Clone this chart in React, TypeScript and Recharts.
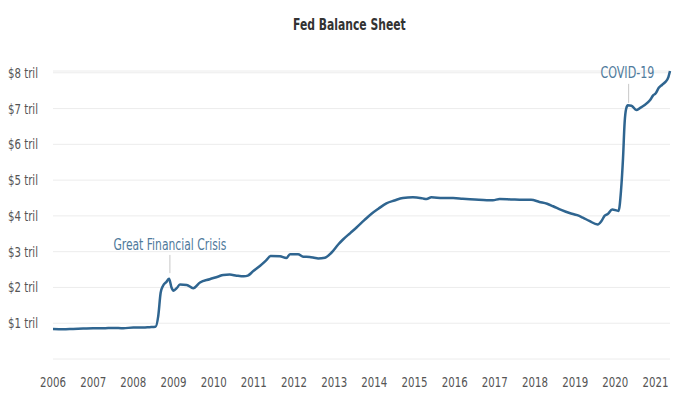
import React from 'react';
import { LineChart, Line, XAxis, YAxis, CartesianGrid, ReferenceLine, ReferenceDot } from 'recharts';

// year (decimal) and balance sheet size in trillions of dollars
const years = [
  2006.0, 2006.25, 2006.5, 2006.75, 2007.0, 2007.25, 2007.5, 2007.75, 2008.0, 2008.25, 2008.4, 2008.55,
  2008.62, 2008.68, 2008.74, 2008.82, 2008.89, 2008.95, 2009.0, 2009.08, 2009.16, 2009.33, 2009.49, 2009.66,
  2009.9, 2010.1, 2010.24, 2010.4, 2010.57, 2010.75, 2010.85, 2010.98, 2011.15, 2011.3, 2011.42, 2011.65,
  2011.81, 2011.9, 2012.1, 2012.23, 2012.39, 2012.5, 2012.6, 2012.77, 2012.93, 2013.1, 2013.22, 2013.4,
  2013.55, 2013.75, 2013.93, 2014.1, 2014.3, 2014.5, 2014.71, 2014.96, 2015.2, 2015.3, 2015.42, 2015.7,
  2015.96, 2016.2, 2016.5, 2016.8, 2016.95, 2017.12, 2017.4, 2017.7, 2017.9, 2018.11, 2018.3, 2018.45,
  2018.65, 2018.86, 2019.05, 2019.19, 2019.35, 2019.56, 2019.65, 2019.73, 2019.81, 2019.92, 2020.08, 2020.14,
  2020.19, 2020.23, 2020.27, 2020.31, 2020.4, 2020.52, 2020.62, 2020.73, 2020.86, 2020.94, 2021.0, 2021.08,
  2021.16, 2021.24, 2021.32, 2021.36,
];
const assets = [
  0.84, 0.83, 0.84, 0.85, 0.86, 0.86, 0.87, 0.86, 0.88, 0.88, 0.89, 0.9,
  1.2, 1.85, 2.05, 2.15, 2.24, 2.0, 1.91, 1.98, 2.08, 2.07, 1.98, 2.14,
  2.23, 2.3, 2.35, 2.36, 2.33, 2.31, 2.33, 2.45, 2.6, 2.75, 2.88, 2.87,
  2.82, 2.93, 2.93, 2.86, 2.85, 2.83, 2.81, 2.83, 2.97, 3.2, 3.34, 3.52,
  3.67, 3.88, 4.06, 4.2, 4.35, 4.43, 4.5, 4.52, 4.49, 4.47, 4.52, 4.5,
  4.5, 4.48, 4.46, 4.44, 4.44, 4.47, 4.46, 4.45, 4.45, 4.39, 4.34, 4.27,
  4.17, 4.08, 4.02, 3.95, 3.86, 3.76, 3.85, 4.0, 4.05, 4.18, 4.14, 4.7,
  5.6, 6.6, 7.0, 7.09, 7.08, 6.96, 7.02, 7.1, 7.23, 7.37, 7.42, 7.58,
  7.66, 7.74, 7.88, 8.05,
];
const xTicks = [2006, 2007, 2008, 2009, 2010, 2011, 2012, 2013, 2014, 2015, 2016, 2017, 2018, 2019, 2020, 2021];
const yTicks = [0, 1, 2, 3, 4, 5, 6, 7, 8];

const data = years.map((year, i) => ({ year, value: assets[i] }));

const FONT = "'Liberation Sans Narrow', 'DejaVu Sans Condensed', 'Roboto', sans-serif";
const LINE = '#2f6590';
const NOTE = '#4f7a9c';
const TICK = '#555';

// squeezed text so the notes look like the condensed face of the original
const noteLabel = (text: string, len: number) => (props: any) => {
  const { viewBox } = props;
  const cx = viewBox.x + (viewBox.width || 0) / 2;
  const cy = viewBox.y + (viewBox.height || 0) / 2;
  return (
    <text
      x={cx}
      y={cy}
      textAnchor="middle"
      dominantBaseline="central"
      fill={NOTE}
      fontSize={15}
      fontFamily={FONT}
      textLength={len}
      lengthAdjust="spacingAndGlyphs"
    >
      {text}
    </text>
  );
};

const XTick = (props: any) => {
  const { x, y, payload } = props;
  return (
    <text x={x} y={y + 5} textAnchor="middle" dominantBaseline="central" fill={TICK} fontSize={14}
      fontFamily={FONT} textLength={26} lengthAdjust="spacingAndGlyphs">
      {payload.value}
    </text>
  );
};

const YTick = (props: any) => {
  const { x, y, payload } = props;
  if (payload.value === 0) return <g />;
  return (
    <text x={x} y={y} textAnchor="end" dominantBaseline="central" fill={TICK} fontSize={14}
      fontFamily={FONT} textLength={30} lengthAdjust="spacingAndGlyphs">
      {`$${payload.value} tril`}
    </text>
  );
};

export default function App() {
  return (
    <div style={{ position: 'absolute', left: 0, top: 0, width: 699, height: 399, background: '#fff', fontFamily: FONT }}>
      <div style={{ position: 'absolute', left: 0, top: 15, width: 699, textAlign: 'center', color: '#333' }}>
        <span style={{ display: 'inline-block', fontWeight: 'bold', fontSize: 15, transform: 'scaleX(0.8)' }}>
          Fed Balance Sheet
        </span>
      </div>
      <LineChart width={699} height={399} data={data} margin={{ top: 71, right: 29, bottom: 10, left: 0 }}>
        <CartesianGrid vertical={false} stroke="#ececec" />
        <XAxis
          dataKey="year"
          type="number"
          domain={[2006, 2021.36]}
          ticks={xTicks}
          axisLine={false}
          tickLine={false}
          tickSize={0}
          tickMargin={18}
          height={30}
          tick={<XTick />}
        />
        <YAxis
          type="number"
          domain={[0, 8]}
          ticks={yTicks}
          width={53}
          axisLine={false}
          tickLine={false}
          tickSize={0}
          tickMargin={15}
          tick={<YTick />}
        />
        <ReferenceLine segment={[{ x: 2008.91, y: 2.91 }, { x: 2008.91, y: 2.4 }]} stroke="#c8c8c8" />
        <ReferenceLine segment={[{ x: 2020.33, y: 7.69 }, { x: 2020.33, y: 7.16 }]} stroke="#c8c8c8" />
        <Line
          type="monotone"
          dataKey="value"
          stroke={LINE}
          strokeWidth={2.5}
          dot={false}
          isAnimationActive={false}
        />
        <ReferenceDot x={2008.91} y={3.19} r={0} label={noteLabel('Great Financial Crisis', 113)} />
        <ReferenceDot x={2020.3} y={8.0} r={0} label={noteLabel('COVID-19', 54)} />
      </LineChart>
    </div>
  );
}
